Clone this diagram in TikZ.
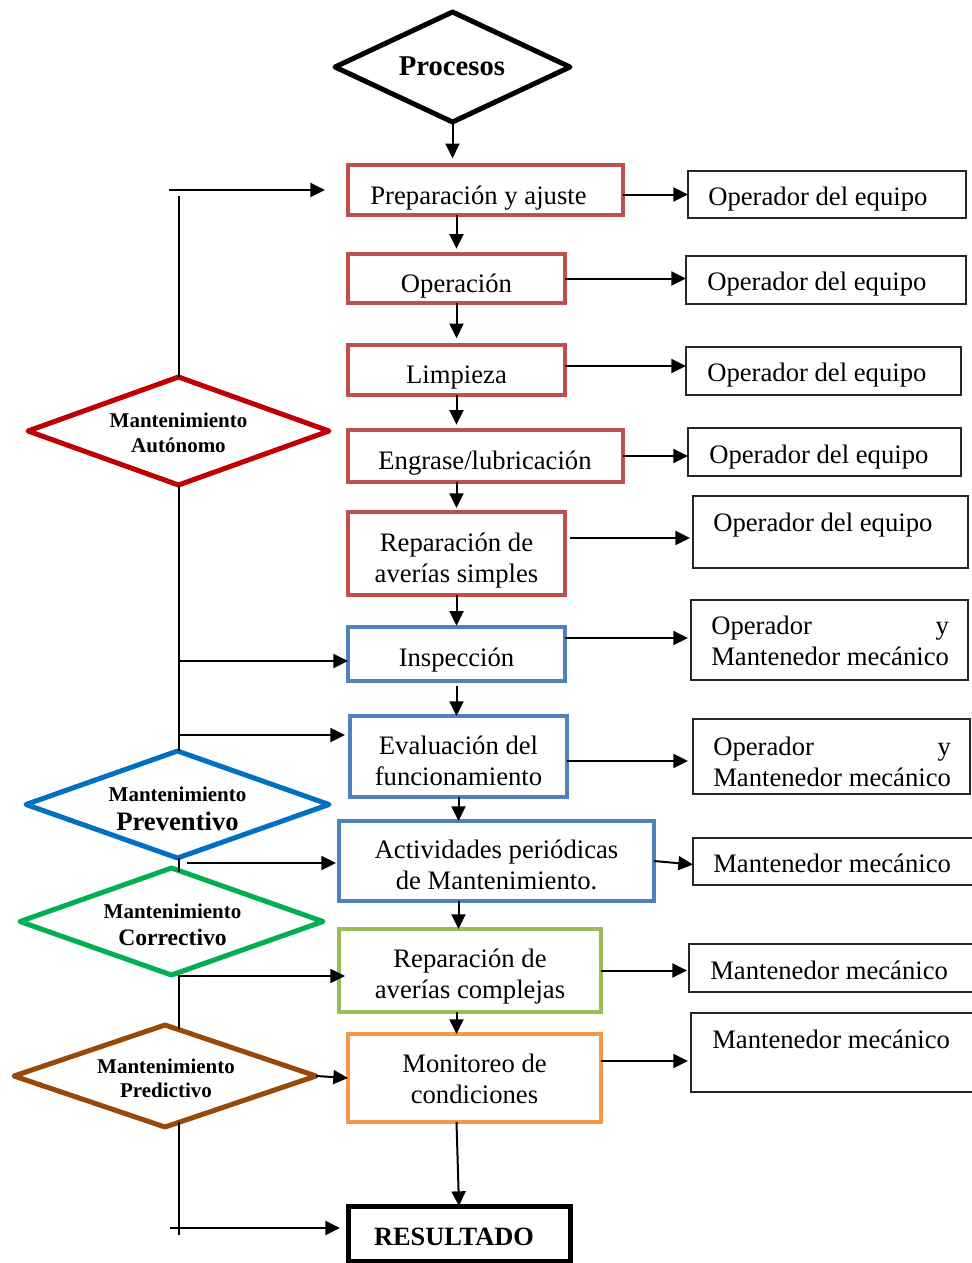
\documentclass[tikz,border=0pt]{standalone}
\usepackage{fontspec}
\setmainfont{Liberation Serif}
\usetikzlibrary{arrows.meta,shapes.geometric,calc}
\definecolor{bred}{HTML}{C0504D}
\definecolor{bblue}{HTML}{4F81BD}
\definecolor{bgreen}{HTML}{9BBB59}
\definecolor{borange}{HTML}{F79646}
\definecolor{dred}{HTML}{C00000}
\definecolor{dblue}{HTML}{0070C0}
\definecolor{dgreen}{HTML}{00B050}
\definecolor{dbrown}{HTML}{984807}
\newcommand\twol[2]{\vtop{\halign{\hfil##\hfil\cr #1\cr #2\cr}}}
\newcommand\oyline{\vtop{\hbox to 178.3pt{Operador\hfill y}\hbox{Mantenedor mecánico}}}
\begin{document}
\begin{tikzpicture}[x=0.75pt,y=-0.75pt,
  sz/.style 2 args={minimum width=#1*0.75pt, minimum height=#2*0.75pt},
  cbox/.style={draw=#1, line width=3pt, rectangle, inner sep=0pt, outer sep=0pt},
  obox/.style={draw=black!85, line width=1.1pt, rectangle, inner sep=0pt, outer sep=0pt},
  dia/.style={draw=#1, line width=3.75pt, diamond, inner sep=0pt, outer sep=0pt, line join=round},
  txt/.style={inner sep=0pt, font=\fontsize{20}{23.25}\selectfont},
  dtxt/.style={inner sep=0pt, font=\bfseries\fontsize{15.75}{18.75}\selectfont},
  conn/.style={line width=1.5pt},
  arr/.style={conn, -{Triangle[length=11pt,width=10.5pt]}}]
\useasboundingbox (0,0) rectangle (971,1263);

% top diamond
\node[dia=black, sz={235}{110}] (proc) at (452.5,67) {};
\node[inner sep=0pt, font=\bfseries\fontsize{21.5}{24}\selectfont, anchor=base] (proct) at (452,75) {Procesos};

% central boxes
\node[cbox=bred, sz={275}{50}] (b1) at (485.5,190) {};
\node[txt, anchor=base] (t1) at (478.5,204) {Preparación y ajuste};
\node[cbox=bred, sz={217}{49}] (b2) at (456.5,278.5) {};
\node[txt, anchor=base] (t2) at (456.5,292) {Operación};
\node[cbox=bred, sz={217}{50}] (b3) at (456.5,370) {};
\node[txt, anchor=base] (t3) at (456.5,383) {Limpieza};
\node[cbox=bred, sz={275}{52}] (b4) at (485.5,456) {};
\node[txt, anchor=base] (t4) at (485,469) {Engrase/lubricación};
\node[cbox=bred, sz={217}{83}] (b5) at (456.5,553.5) {};
\node[txt, anchor=base] (t5) at (456.5,551) {\twol{Reparación de}{averías simples}};
\node[cbox=bblue, sz={217}{54}] (b6) at (456.5,654) {};
\node[txt, anchor=base] (t6) at (456.5,666) {Inspección};
\node[cbox=bblue, sz={217}{81}] (b7) at (458.5,756.5) {};
\node[txt, anchor=base] (t7) at (458.5,754) {\twol{Evaluación del}{funcionamiento}};
\node[cbox=bblue, sz={315}{80}] (b8) at (496.5,861) {};
\node[txt, anchor=base] (t8) at (496.5,858) {\twol{Actividades periódicas}{de Mantenimiento.}};
\node[cbox=bgreen, sz={262}{83}] (b9) at (470,970.5) {};
\node[txt, anchor=base] (t9) at (470,967) {\twol{Reparación de}{averías complejas}};
\node[cbox=borange, sz={253}{88}] (b10) at (474.5,1078) {};
\node[txt, anchor=base] (t10) at (474.5,1072) {\twol{Monitoreo de}{condiciones}};
\node[cbox=black, line width=3.75pt, sz={222}{55}] (b11) at (459,1233.5) {};
\node[inner sep=0pt, font=\bfseries\fontsize{19.8}{23}\selectfont, anchor=base] (t11) at (454,1245) {RESULTADO};

% right boxes
\node[obox, sz={278}{47}] (r1) at (827,194.5) {};
\node[txt, anchor=base west] (s1) at (708,205) {Operador del equipo};
\node[obox, sz={280}{48}] (r2) at (826,280) {};
\node[txt, anchor=base west] (s2) at (707,290) {Operador del equipo};
\node[obox, sz={275}{48}] (r3) at (823.5,371) {};
\node[txt, anchor=base west] (s3) at (707,381) {Operador del equipo};
\node[obox, sz={273}{48}] (r4) at (824.5,452) {};
\node[txt, anchor=base west] (s4) at (709,463) {Operador del equipo};
\node[obox, sz={275}{72}] (r5) at (830.5,532) {};
\node[txt, anchor=base west] (s5) at (713,531) {Operador del equipo};
\node[obox, sz={277}{80}] (r6) at (829.5,640) {};
\node[txt, anchor=base west] (s6) at (711,634) {\oyline};
\node[obox, sz={277}{75}] (r7) at (831.5,756.5) {};
\node[txt, anchor=base west] (s7) at (713,755) {\oyline};
\node[obox, sz={287}{47}] (r8) at (836.5,861.5) {};
\node[txt, anchor=base west] (s8) at (713,872) {Mantenedor mecánico};
\node[obox, sz={291}{48}] (r9) at (834.5,968) {};
\node[txt, anchor=base west] (s9) at (710,979) {Mantenedor mecánico};
\node[obox, sz={289}{79}] (r10) at (835.5,1052.5) {};
\node[txt, anchor=base west] (s10) at (712,1048) {Mantenedor mecánico};

% left diamonds
\node[dia=dred, sz={301}{108}] (aut) at (178.5,431) {};
\node[dtxt, anchor=base] (autt) at (178.5,427) {\twol{Mantenimiento}{Autónomo}};
\node[dia=dblue, sz={303}{107}] (prev) at (177.5,804.5) {};
\node[dtxt, font=\bfseries\fontsize{15.75}{21.75}\selectfont, anchor=base] (prevt) at (177.5,801) {\twol{Mantenimiento}{\fontsize{20}{21.75}\selectfont Preventivo}};
\node[dia=dgreen, sz={303}{107}] (corr) at (171.5,921.5) {};
\node[dtxt, font=\bfseries\fontsize{15.75}{20.25}\selectfont, anchor=base] (corrt) at (172.5,918) {\twol{Mantenimiento}{\fontsize{17.7}{20.25}\selectfont Correctivo}};
\node[dia=dbrown, sz={302}{102}] (pred) at (165,1076) {};
\node[dtxt, font=\bfseries\fontsize{15.75}{18}\selectfont, anchor=base] (predt) at (166,1073) {\twol{Mantenimiento}{Predictivo}};

% vertical flow arrows
\draw[arr, shorten >=5pt] (proc.south) -- (proc.south |- b1.north);
\draw[arr, shorten >=4pt] (b2.north |- b1.south) -- (b2.north);
\draw[arr, shorten >=5pt] (b3.north |- b2.south) -- (b3.north);
\draw[arr, shorten >=4pt] (b3.south) -- (b3.south |- b4.north);
\draw[arr, shorten >=3pt] (b5.north |- b4.south) -- (b5.north);
\draw[arr, shorten >=1pt] (b5.south) -- (b6.north);
\draw[arr, shorten <=4pt] (b6.south) -- (b6.south |- b7.north);
\draw[arr] (b7.south) -- (b7.south |- b8.north);
\draw[arr] (b8.south -| b7.south) -- (b9.north -| b7.south);
\draw[arr] (b9.south -| b5.south) -- (b10.north -| b5.south);
\draw[arr] (b10.south -| b5.south) -- (b11.north);

% arrows to right boxes
\draw[arr] (b1.east |- r1.west) -- (r1.west);
\draw[arr] (b2.east) -- (b2.east -| r2.west);
\draw[arr] ($(b3.east)+(0,-4)$) -- ($(b3.east -| r3.west)+(0,-4)$);
\draw[arr] (b4.east) -- (b4.east -| r4.west);
\draw[arr] ($(b5.east |- r5.west)+(5,6)$) -- ($(r5.west)+(-3,6)$);
\draw[arr] ($(b6.east |- r6.west)+(0,-2)$) -- ($(r6.west)+(-3,-2)$);
\draw[arr] ($(b7.east)+(0,4.5)$) -- ($(b7.east -| r7.west)+(-5,4.5)$);
\draw[arr] (b8.east) -- ($(r8.west)+(0,3)$);
\draw[arr] (b9.east) -- ($(b9.east -| r9.west)+(-2,0)$);
\draw[arr] ($(b10.east)+(0,-17)$) -- ($(b10.east -| r10.west)+(-3,-17)$);

% left connectors
\coordinate (a0) at ($(aut.north |- b1.west)+(-10,0)$);
\draw[conn] (aut.north) -- ($(aut.north |- b1.west)+(0,6)$);
\draw[arr] (a0) -- ($(b1.west)+(-23,0)$);
\draw[conn] (aut.south) -- (aut.south |- prev.north);
\draw[arr] ($(aut.south |- b6.west)+(0,7)$) -- ($(b6.west)+(0,7)$);
\draw[arr] ($(aut.south |- b7.west)+(0,-21.5)$) -- ($(b7.west)+(-5,-21.5)$);
\draw[conn] ($(prev.south)+(1.5,0)$) -- ($(prev.south |- corr.north)+(1.5,4)$);
\draw[arr] ($(prev.south)+(9.5,5)$) -- ($(b8.west |- prev.south)+(-3,5)$);
\draw[conn] ($(corr.south)+(7.5,0)$) -- ($(corr.south |- pred.north)+(7.5,4)$);
\draw[arr] ($(corr.south)+(7.5,1)$) -- ($(b9.west |- corr.south)+(6,1)$);
\draw[arr] (pred.east) -- (b10.west);
\draw[conn] ($(pred.south)+(14,-5)$) -- ($(pred.south)+(14,108)$);
\draw[arr] ($(pred.south |- b11.west)+(5,-5.5)$) -- ($(b11.west)+(-8,-5.5)$);
\end{tikzpicture}
\end{document}
